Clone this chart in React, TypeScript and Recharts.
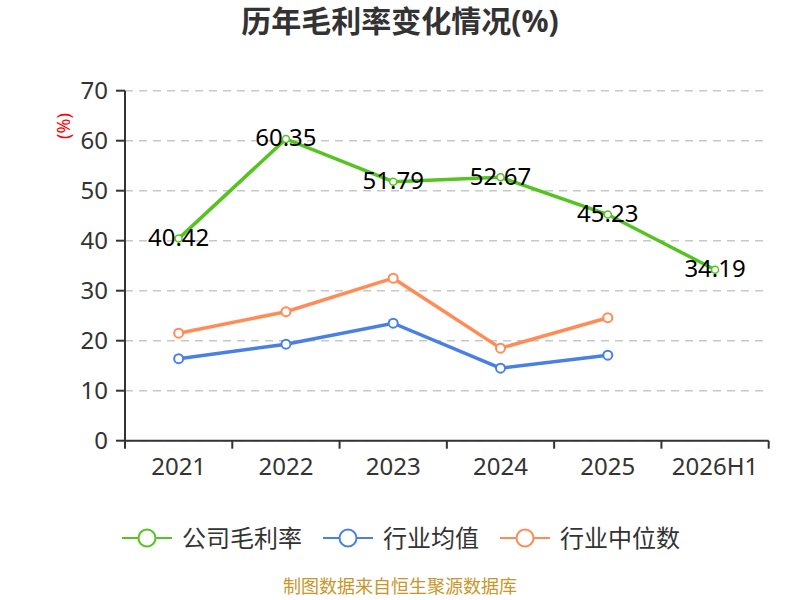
import React from 'react';
import { LineChart, Line, XAxis, YAxis, CartesianGrid, LabelList } from 'recharts';

const categories = ['2021', '2022', '2023', '2024', '2025', '2026H1'];
const companyMargin = [40.42, 60.35, 51.79, 52.67, 45.23, 34.19];
const industryAvg = [16.4, 19.3, 23.5, 14.5, 17.1, null];
const industryMedian = [21.5, 25.8, 32.5, 18.5, 24.6, null];
const yTicks = [0, 10, 20, 30, 40, 50, 60, 70];

const seriesNames = ['公司毛利率', '行业均值', '行业中位数'];
const seriesColors = ['#55c320', '#4a80e3', '#ff8c57'];

const data = categories.map((c, i) => ({
  name: c,
  company: companyMargin[i],
  avg: industryAvg[i],
  median: industryMedian[i],
}));

const W = 800;
const H = 600;
const PLOT_LEFT = 125;
const PLOT_RIGHT = 768.7;
const PLOT_TOP = 90.7;
const PLOT_BOTTOM = 440.7;
const BAND = (PLOT_RIGHT - PLOT_LEFT) / categories.length;
const FONT = '"Noto Sans", "Noto Sans CJK SC", sans-serif';

const XTick = (props: any) => {
  const { x, y, payload, index } = props;
  const half = BAND / 2;
  const last = index === categories.length - 1;
  return (
    <g>
      <line x1={x - half} y1={y} x2={x - half} y2={y + 8} stroke="#333" strokeWidth={2} />
      {last && <line x1={x + half} y1={y} x2={x + half} y2={y + 8} stroke="#333" strokeWidth={2} />}
      <text x={x} y={y + 25} textAnchor="middle" dominantBaseline="central" fill="#333" fontSize={24} fontFamily={FONT}>
        {payload.value}
      </text>
    </g>
  );
};

const ValueLabel = (props: any) => {
  const { x, y, value } = props;
  if (value == null) return null;
  return (
    <text x={x} y={y - 2} textAnchor="middle" dominantBaseline="central" fill="#000" fontSize={24} fontFamily={FONT}>
      {value}
    </text>
  );
};

const LegendItem = ({ color, label }: { color: string; label: string }) => (
  <div style={{ display: 'flex', alignItems: 'center', marginRight: 21 }}>
    <svg width={50} height={22} style={{ marginRight: 10 }}>
      <line x1={0} y1={11} x2={50} y2={11} stroke={color} strokeWidth={2} />
      <circle cx={25} cy={11} r={8.5} fill="#fff" stroke={color} strokeWidth={2} />
    </svg>
    <span style={{ fontSize: 24, color: '#333', fontFamily: FONT, lineHeight: '24px' }}>{label}</span>
  </div>
);

export default function App() {
  return (
    <div style={{ position: 'fixed', top: 0, left: 0, width: W, height: H, background: '#fff', fontFamily: FONT, overflow: 'hidden' }}>
      <div style={{ position: 'absolute', top: 1, left: 0, width: W, textAlign: 'center', fontSize: 30, fontWeight: 'bold', color: '#333', lineHeight: '40px' }}>
        历年毛利率变化情况(%)
      </div>
      <div style={{ position: 'absolute', left: 50, top: 115, width: 26, height: 22, fontSize: 18, color: '#ff0000', transform: 'rotate(-90deg)', textAlign: 'center', lineHeight: '22px' }}>
        (%)
      </div>
      <div style={{ position: 'absolute', top: 0, left: 0 }}>
        <LineChart
          width={W}
          height={H}
          data={data}
          margin={{ top: PLOT_TOP, right: W - PLOT_RIGHT, left: 0, bottom: H - PLOT_BOTTOM - 40 }}
        >
          <CartesianGrid vertical={false} stroke="#c8c8c8" strokeDasharray="8 6" strokeWidth={1.5} />
          <XAxis
            dataKey="name"
            height={40}
            padding={{ left: BAND / 2, right: BAND / 2 }}
            axisLine={{ stroke: '#333', strokeWidth: 2 }}
            tickLine={false}
            tickSize={0}
            tickMargin={0}
            interval={0}
            tick={<XTick />}
          />
          <YAxis
            width={PLOT_LEFT}
            domain={[0, 70]}
            ticks={yTicks}
            interval={0}
            axisLine={{ stroke: '#333', strokeWidth: 2 }}
            tickLine={{ stroke: '#333', strokeWidth: 2 }}
            tickSize={9}
            tickMargin={8}
            tick={{ fill: '#333', fontSize: 24, fontFamily: FONT }}
          />
          <Line
            dataKey="avg"
            stroke={seriesColors[1]}
            strokeWidth={3.5}
            dot={{ r: 4.5, fill: '#fff', stroke: seriesColors[1], strokeWidth: 2 }}
            isAnimationActive={false}
            connectNulls={false}
          />
          <Line
            dataKey="median"
            stroke={seriesColors[2]}
            strokeWidth={3.5}
            dot={{ r: 4.5, fill: '#fff', stroke: seriesColors[2], strokeWidth: 2 }}
            isAnimationActive={false}
            connectNulls={false}
          />
          <Line
            dataKey="company"
            stroke={seriesColors[0]}
            strokeWidth={3.5}
            dot={{ r: 3.5, fill: '#fff', stroke: seriesColors[0], strokeWidth: 1.5 }}
            isAnimationActive={false}
          >
            <LabelList dataKey="company" content={<ValueLabel />} />
          </Line>
        </LineChart>
      </div>
      <div style={{ position: 'absolute', top: 526, left: 122, display: 'flex', alignItems: 'center' }}>
        {seriesNames.map((n, i) => (
          <LegendItem key={n} color={seriesColors[i]} label={n} />
        ))}
      </div>
      <div style={{ position: 'absolute', top: 574, left: 0, width: W, textAlign: 'center', fontSize: 18, color: '#c8962a', lineHeight: '24px' }}>
        制图数据来自恒生聚源数据库
      </div>
    </div>
  );
}
